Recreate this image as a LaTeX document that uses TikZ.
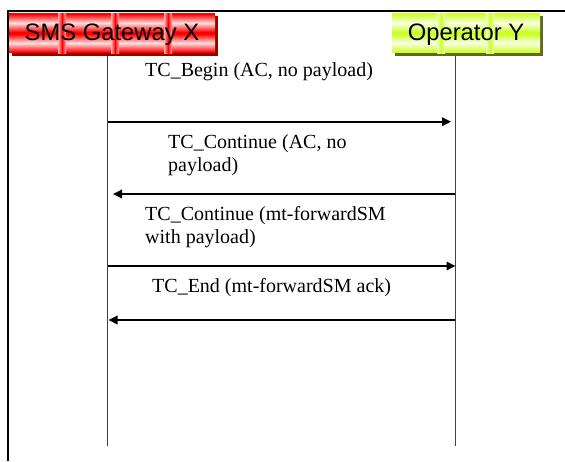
\documentclass[tikz,border=0pt]{standalone}
\usepackage{fontspec}
\setmainfont{Liberation Serif}
\newfontfamily\boxfont{Liberation Sans}
\usetikzlibrary{arrows.meta}
\definecolor{gwred}{RGB}{255,0,0}
\definecolor{gwshade}{RGB}{150,0,0}
\definecolor{oplime}{RGB}{204,255,40}
\definecolor{opshade}{RGB}{95,105,35}
\definecolor{lifegray}{RGB}{64,64,64}
\begin{document}
\begin{tikzpicture}[x=1pt,y=-1pt]
\tikzset{
  frameline/.style={line width=2.2pt,black},
  lifeline/.style={line width=1.6pt,lifegray},
  msg/.style={line width=1.8pt,black,-{Triangle[length=9pt,width=8.5pt]}},
  msglabel/.style={anchor=base west,inner sep=0pt,align=left,font=\fontsize{20}{23}\selectfont},
  actorbox/.style={inner sep=0pt,minimum height=40pt,font=\boxfont\fontsize{23.8}{26}\selectfont},
}
\useasboundingbox (0,0) rectangle (565,461);
\fill[white] (0,0) rectangle (565,461);

% frame
\coordinate (fbl) at (7.7,461);
\coordinate (ftl) at (7.7,11);
\coordinate (ftr) at (565,11);
\draw[frameline] (fbl) -- (ftl) -- (ftr);

% actor box SMS Gateway X: shadow and glossy fill
\fill[gwshade] (12,16) rectangle (218,56);
\fill[gwred] (9,13) rectangle (215,53);
\foreach \r in {0,1}
  \shade[top color=gwred,bottom color=gwred,middle color=gwred!12] (9,13+\r*20+1) rectangle (215,13+\r*20+19);
\foreach \c in {62,115,168}
  \shade[left color=gwred!30,right color=gwred!30,middle color=gwred] (\c-4,13) rectangle (\c+4,53);
\node[actorbox,minimum width=206pt] (gw) at (112,35) {SMS Gateway X};

% actor box Operator Y
\fill[opshade] (395,16) rectangle (543,56);
\fill[oplime] (392,13) rectangle (540,53);
\foreach \r in {0,1}
  \shade[top color=oplime,bottom color=oplime,middle color=oplime!12] (392,13+\r*20+1) rectangle (540,13+\r*20+19);
\foreach \c in {441,490}
  \shade[left color=oplime!30,right color=oplime!30,middle color=oplime] (\c-4,13) rectangle (\c+4,53);
\node[actorbox,minimum width=148pt] (op) at (466,35) {Operator Y};

% lifelines
\coordinate (gtop) at (107.5,56);
\coordinate (gbot) at (107.5,446);
\coordinate (otop) at (455.5,56);
\coordinate (obot) at (455.5,446);
\draw[lifeline] (gtop) -- (gbot);
\draw[lifeline] (otop) -- (obot);

% messages
\coordinate (m1s) at (108.3,121.7);
\coordinate (m1e) at (451,121.7);
\coordinate (m2s) at (454.7,194);
\coordinate (m2e) at (113,194);
\coordinate (m3s) at (108.3,266);
\coordinate (m3e) at (455.5,266);
\coordinate (m4s) at (454.7,320);
\coordinate (m4e) at (108.5,320);
\draw[msg] (m1s) -- (m1e);
\draw[msg] (m2s) -- (m2e);
\draw[msg] (m3s) -- (m3e);
\draw[msg] (m4s) -- (m4e);

% labels (base = baseline of last line)
\node[msglabel] (l1) at (145,76) {TC\_Begin (AC, no payload)};
\node[msglabel] (l2) at (168,171) {TC\_Continue (AC, no\\payload)};
\node[msglabel] (l3) at (145,243) {TC\_Continue (mt-forwardSM\\with payload)};
\node[msglabel] (l4) at (152,292) {TC\_End (mt-forwardSM ack)};
\end{tikzpicture}
\end{document}
